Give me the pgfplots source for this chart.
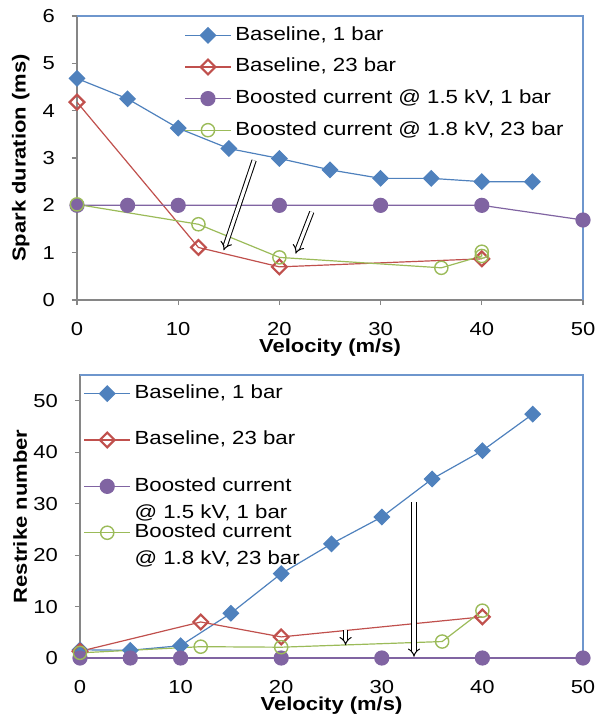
\documentclass[border=0pt]{standalone}
\usepackage{fontspec}
\setmainfont[FakeStretch=1.17]{Liberation Sans}
\usepackage{pgfplots}
\pgfplotsset{compat=1.18}
\usetikzlibrary{arrows.meta}
\definecolor{c1}{RGB}{79,129,189}
\definecolor{c2}{RGB}{192,80,77}
\definecolor{c3}{RGB}{128,100,162}
\definecolor{c4}{RGB}{155,187,89}
\definecolor{axgray}{RGB}{134,134,134}
\definecolor{bordc}{RGB}{110,150,205}
\tikzset{arr/.style={black, line width=0.5pt, double=white, double distance=1.6pt, -{Implies[scale=1.4]}}}
\pgfplotsset{
  myax/.style={
    scale only axis, clip=false,
    xmin=0, xmax=50, xtick={0,10,...,50},
    axis line style={draw=axgray, line width=0.6pt},
    tick style={draw=axgray, line width=0.6pt},
    tick align=outside, tickpos=left,
    major tick length=2.5pt,
    /pgf/number format/assume math mode=true,
    tick label style={font=\fontsize{9.4}{11}\selectfont},
    label style={font=\bfseries\fontsize{9.4}{11}\selectfont},
    xticklabel style={yshift=-5pt},
    yticklabel style={xshift=-5pt},
    legend cell align=left,
    legend image code/.code={\draw[mark repeat=2,mark phase=2] plot coordinates {(0cm,0cm) (0.4cm,0cm) (0.8cm,0cm)};},
  },
  s1/.style={color=c1, line width=0.6pt, mark=square*, mark size=2.7pt, mark options={rotate=45, solid}},
  s2/.style={color=c2, line width=0.6pt, mark=square, mark size=2.6pt, mark options={rotate=45, line width=1.1pt, fill=white, solid}},
  s3/.style={color=c3, line width=0.6pt, mark=*, mark size=3.5pt, mark options={solid}},
  s4/.style={color=c4, line width=0.6pt, mark=o, mark size=3.3pt, mark options={line width=0.7pt, solid}},
}
\begin{document}
\begin{tikzpicture}
\useasboundingbox (0,0) rectangle (297.5pt,-361pt);
% ---------------- top chart ----------------
\begin{axis}[myax,
  at={(38.5pt,-150pt)}, anchor=south west,
  width=253pt, height=142pt,
  ymin=0, ymax=6, ytick={0,1,...,6},
  xlabel={Velocity (m/s)}, ylabel={Spark duration (ms)},
  xlabel style={at={(axis description cs:0.5,0)}, anchor=center, yshift=-24pt},
  ylabel style={at={(axis description cs:-0.111,0.5)}, anchor=center},
  legend style={at={(rel axis cs:0.2,0.993)}, anchor=north west, draw=none, fill=none,
    font=\fontsize{9.5}{11.4}\selectfont, row sep=2.8pt,
    nodes={text height=7pt, text depth=2pt}},
]
\addplot[s1] coordinates {(0,4.68) (5,4.25) (10,3.63) (15,3.2) (20,2.99) (25,2.75) (30,2.57) (35,2.57) (40,2.5) (45,2.5)};
\addlegendentry{Baseline, 1 bar}
\addplot[s2] coordinates {(0,4.18) (12,1.11) (20,0.70) (40,0.87)};
\addlegendentry{Baseline, 23 bar}
\addplot[s3] coordinates {(0,2) (5,2) (10,2) (20,2) (30,2) (40,2) (50,1.69)};
\addlegendentry{Boosted current @ 1.5 kV, 1 bar}
\addplot[s4] coordinates {(0,2.02) (12,1.6) (20,0.9) (36,0.68) (40,0.93) (40,1.02)};
\addlegendentry{Boosted current @ 1.8 kV, 23 bar}
\draw[bordc, line width=0.6pt] (rel axis cs:0,1) -- (rel axis cs:1,1) -- (rel axis cs:1,0);
\draw[arr] (axis cs:17.5,2.95) -- (axis cs:14.5,1.05);
\draw[arr] (axis cs:23.2,1.86) -- (axis cs:21.6,0.98);
\end{axis}
% ---------------- bottom chart ----------------
\begin{axis}[myax,
  at={(40pt,-329pt)}, anchor=south west,
  width=251.5pt, height=141.5pt,
  ymin=0, ymax=55, ytick={0,10,...,50},
  xlabel={Velocity (m/s)}, ylabel={Restrike number},
  xlabel style={at={(axis description cs:0.5,0)}, anchor=center, yshift=-24pt},
  ylabel style={at={(axis description cs:-0.119,0.5)}, anchor=center},
  legend style={at={(rel axis cs:-0.005,0.996)}, anchor=north west, draw=none, fill=none,
    font=\fontsize{9.5}{13.5}\selectfont, row sep=10.2pt,
    nodes={text height=7pt, text depth=2pt}},
]
\addplot[s1] coordinates {(0,1.6) (5,1.5) (10,2.4) (15,8.7) (20,16.4) (25,22.2) (30,27.4) (35,34.8) (40,40.3) (45,47.4)};
\addlegendentry{Baseline, 1 bar}
\addplot[s2] coordinates {(0,1.3) (12,7.0) (20,4.1) (40,8.0)};
\addlegendentry{Baseline, 23 bar}
\addplot[s3] coordinates {(0,0) (5,0) (10,0) (20,0) (30,0) (40,0) (50,0)};
\addlegendentry{{\begin{tabular}[t]{@{}l@{}}Boosted current\\@ 1.5 kV, 1 bar\end{tabular}}}
\addplot[s4] coordinates {(0,1.0) (12,2.2) (20,2.1) (36,3.2) (40,9.2)};
\addlegendentry{{\begin{tabular}[t]{@{}l@{}}Boosted current\\@ 1.8 kV, 23 bar\end{tabular}}}
\draw[bordc, line width=0.6pt] (rel axis cs:0,1) -- (rel axis cs:1,1) -- (rel axis cs:1,0);
\draw[arr] (axis cs:26.4,5.4) -- (axis cs:26.4,2.5);
\draw[arr] (axis cs:33.2,30.3) -- (axis cs:33.2,0.25);
\end{axis}
\end{tikzpicture}
\end{document}
